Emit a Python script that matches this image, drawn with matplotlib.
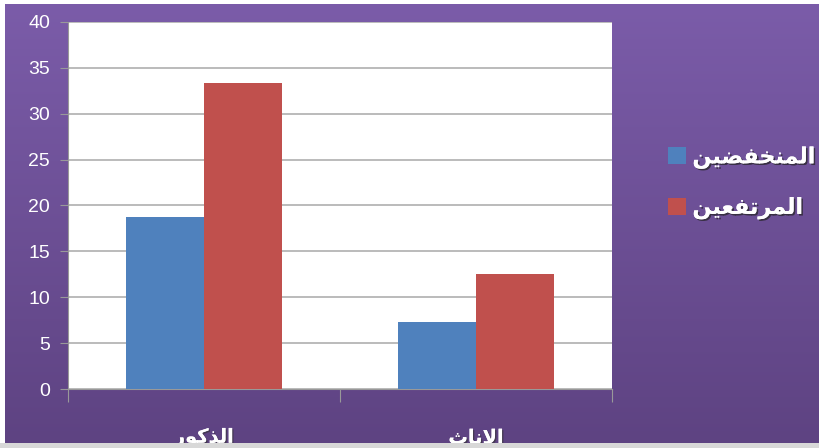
import numpy as np
from matplotlib import pyplot as plt
import matplotlib.patheffects as pe
from matplotlib.patches import Rectangle

# data
categories = ['\uFEAD\uFEEE\uFEDB\uFEAC\uFEDF\uFE8D',          # الذكور
              '\uFE99\uFE8E\uFEE7\uFEFB\uFE8D']                # الاناث
series_names = ['\uFEE6\uFEF4\uFEC0\uFED4\uFEA8\uFEE8\uFEE4\uFEDF\uFE8D',  # المنخفضين
                '\uFEE6\uFEF4\uFECC\uFED4\uFE97\uFEAE\uFEE4\uFEDF\uFE8D']  # المرتفعين
low_vals = [18.8, 7.3]
high_vals = [33.4, 12.5]
y_ticks = [0, 5, 10, 15, 20, 25, 30, 35, 40]

blue = '#4F81BD'
red = '#C0504D'

plt.rcParams['font.family'] = ['Liberation Sans', 'DejaVu Sans']

fig = plt.figure(figsize=(8.2, 4.48), dpi=100)
fig.patch.set_facecolor('white')

# purple gradient background
bg = fig.add_axes([5/820, 5/448, 815/820, 439/448])
grad = np.linspace(0, 1, 256).reshape(-1, 1)
c_top = np.array([0x7B, 0x5C, 0xA9]) / 255
c_bot = np.array([0x5E, 0x43, 0x82]) / 255
img = c_top[None, None, :] * (1 - grad[:, :, None]) + c_bot[None, None, :] * grad[:, :, None]
bg.imshow(img, aspect='auto', extent=[0, 1, 0, 1])
bg.set_axis_off()

ax = fig.add_axes([68/820, 59/448, 544/820, 367/448])
ax.set_facecolor('white')
x = np.arange(len(categories))
w = 0.285
b1 = ax.bar(x - w/2, low_vals, w, color=blue, label=series_names[0], zorder=3)
b2 = ax.bar(x + w/2, high_vals, w, color=red, label=series_names[1], zorder=3)

ax.set_xlim(-0.5, 1.5)
ax.set_ylim(0, 40)
ax.set_yticks(y_ticks)
ax.set_yticklabels([str(v) for v in y_ticks], color='white', fontsize=14)
ax.yaxis.grid(True, color='#AFAFAF', lw=1.2, zorder=0)
ax.set_xticks([-0.5, 0.5, 1.5])
ax.set_xticklabels([])
ax.tick_params(axis='y', length=6, color='#999999', pad=7)
ax.tick_params(axis='x', length=9, color='#999999')
for s in ['top', 'right']:
    ax.spines[s].set_visible(False)
for s in ['left', 'bottom']:
    ax.spines[s].set_color('#999999')

for i, lab in enumerate(categories):
    fig.text((68 + 136 + 272*i)/820, (448-438)/448, lab, ha='center', va='center',
             color='white', fontsize=14, fontweight='bold', family='DejaVu Sans',
             path_effects=[pe.withSimplePatchShadow(offset=(1, -1), shadow_rgbFace='#333333', alpha=0.6), pe.Normal()])

leg = ax.legend(loc='center left', bbox_to_anchor=((668-68)/544, (389-183)/367), frameon=False,
                prop={'family': 'DejaVu Sans', 'weight': 'bold', 'size': 16},
                labelcolor='white', handlelength=0.8, handleheight=0.8,
                handletextpad=0.3, labelspacing=1.25, borderpad=0, borderaxespad=0)
for t in leg.get_texts():
    t.set_path_effects([pe.withSimplePatchShadow(offset=(1.2, -1.2), shadow_rgbFace='#222222', alpha=0.7), pe.Normal()])

# bottom shadow strip
fig.patches.append(Rectangle((0, 0), 1, 5/448, transform=fig.transFigure,
                             facecolor='#D8D8D8', edgecolor='none', zorder=10))

fig.savefig('out.png', dpi=100, facecolor=fig.get_facecolor())
